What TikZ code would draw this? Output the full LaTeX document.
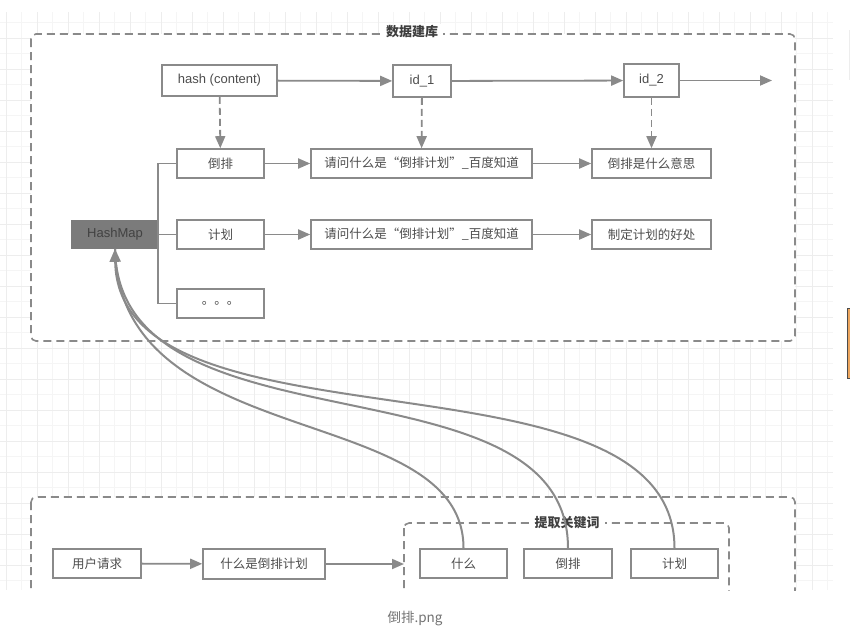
\documentclass[tikz,border=0pt]{standalone}
\usepackage{fontspec}
\setmainfont{Liberation Sans}
\newfontfamily\cjk{Noto Sans CJK SC}
\usetikzlibrary{arrows.meta}
\definecolor{ln}{HTML}{8A8A8A}
\definecolor{tx}{HTML}{4D4D4D}
\definecolor{hmfill}{HTML}{7B7B7B}
\definecolor{gmaj}{HTML}{EDEDED}
\definecolor{gmin}{HTML}{F5F5F5}
\tikzset{
  box/.style={draw=ln, line width=1.6pt, fill=white, text=tx, inner sep=0pt,
    font=\cjk\fontsize{12.5}{14}\selectfont, minimum height=29pt},
  lat/.style={font=\fontsize{13}{15}\selectfont},
  conn/.style={draw=ln, line width=1.8pt, -{Triangle[length=12pt,width=10pt]}},
  dconn/.style={conn, dash pattern=on 7pt off 4pt},
  tree/.style={draw=ln, line width=1.6pt},
  curve/.style={draw=ln, line width=2pt},
  group/.style={draw=ln, line width=1.6pt, dash pattern=on 8pt off 5pt,
    rounded corners=5pt, fill=white},
  gtitle/.style={fill=white, text=tx!80!black,
    font=\cjk\bfseries\fontsize{13}{15}\selectfont, inner xsep=5pt, inner ysep=2pt},
  gridmaj/.style={draw=gmaj, line width=0.8pt},
  gridmin/.style={draw=gmin, line width=0.8pt},
}
\begin{document}
\begin{tikzpicture}[x=1pt, y=-1pt]
\useasboundingbox[fill=white] (0,0) rectangle (850,635);
\begin{scope}
\clip (0,0) rectangle (850,590);
% background grid
\foreach \x in {21.5,52.5,...,833} \draw[gridmin] (\x,12) -- (\x,590);
\foreach \y in {22.5,53.5,...,590} \draw[gridmin] (0,\y) -- (833,\y);
\foreach \x in {6,37,...,833} \draw[gridmaj] (\x,12) -- (\x,590);
\foreach \y in {38,69,...,590} \draw[gridmaj] (0,\y) -- (833,\y);

% groups
\draw[group] (31,34) rectangle (795,341);
\node[gtitle] (t1) at (412,32) {数据建库};
\draw[group] (31,497) rectangle (795,650);
\draw[group] (404,523) rectangle (729,650);
\node[gtitle] (t2) at (567,523) {提取关键词};

% top row
\node[box, lat, minimum width=115pt, minimum height=31pt] (hash) at (219.5,80.5) {hash (content)};
\node[box, lat, minimum width=58pt, minimum height=32pt] (id1) at (422,81) {id\_1};
\node[box, lat, minimum width=55pt, minimum height=33pt] (id2) at (651.5,80.5) {id\_2};
\coordinate (idend) at (772,80.5);

% rows
\node[box, minimum width=87pt] (dp) at (220.5,163.5) {倒排};
\node[box, minimum width=221pt] (q1) at (421.5,163.5) {请问什么是“倒排计划”\_百度知道};
\node[box, minimum width=119pt] (r1) at (651.5,163.5) {倒排是什么意思};
\node[box, minimum width=87pt] (jh) at (220.5,234.5) {计划};
\node[box, minimum width=221pt] (q2) at (421.5,234.5) {请问什么是“倒排计划”\_百度知道};
\node[box, minimum width=119pt] (r2) at (651.5,234.5) {制定计划的好处};
\node[box, minimum width=87pt] (dots) at (220.5,303.5) {。。。};
\node[box, lat, fill=hmfill, draw=hmfill, text=tx!85!black, minimum width=86pt, minimum height=27pt] (hm) at (115,234.5) {HashMap};

% bottom
\node[box, minimum width=88pt] (req) at (97,563.5) {用户请求};
\node[box, minimum width=122pt, minimum height=30pt] (q) at (264,564) {什么是倒排计划};
\coordinate (kwin) at (404,564);
\node[box, minimum width=87pt] (k1) at (463.5,563.5) {什么};
\node[box, minimum width=88pt] (k2) at (568,563.5) {倒排};
\node[box, minimum width=87pt] (k3) at (674.5,563.5) {计划};

% connectors
\draw[conn] (hash) -- (id1);
\draw[conn] (id1) -- (id2);
\draw[conn] (id2) -- (idend);
\draw[dconn] (hash) -- (dp);
\draw[dconn] (id1) -- (q1);
\draw[dconn] (id2) -- (r1);
\draw[conn] (dp) -- (q1);
\draw[conn] (q1) -- (r1);
\draw[conn] (jh) -- (q2);
\draw[conn] (q2) -- (r2);
\draw[tree] (hm.east) -- (jh.west);
\draw[tree] (dp.west) -- ++(-18.5,0) coordinate (tt) -- (tt |- dots.west) -- (dots.west);
\draw[conn] (req) -- (q);
\draw[conn] (q) -- (kwin);

% curves
\draw[curve] (k1.north) .. controls (463.5,400) and (118,455) .. (hm.south);
\draw[curve] (k2.north) .. controls (568,350) and (118,460) .. (hm.south);
\draw[curve, -{Triangle[length=13pt,width=11pt]}] (k3.north) .. controls (674.5,338) and (118,462) .. (hm.south);
\end{scope}

% screenshot edge artefacts
\draw[draw=gmaj, line width=1pt] (849,30) -- (849,80);
\draw[draw=black!70, fill=orange!60!brown!70, line width=0.6pt] (847.5,308) rectangle (850,378);

\node[font=\cjk\fontsize{13.5}{15}\selectfont, text=black!55] (cap) at (415,619) {倒排.png};
\end{tikzpicture}
\end{document}
